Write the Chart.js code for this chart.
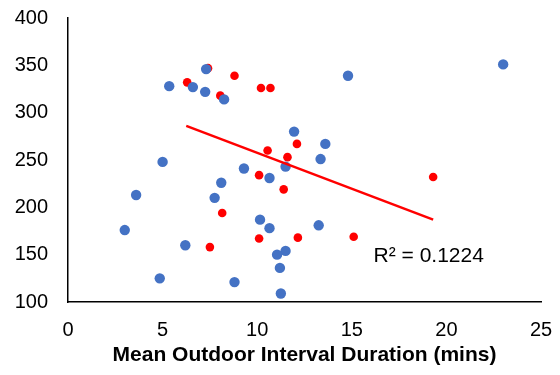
<!DOCTYPE html>
<html>
<head>
<meta charset="utf-8">
<script src="https://cdn.jsdelivr.net/npm/chart.js@4.4.1/dist/chart.umd.min.js"></script>
<style>
  html, body { margin: 0; padding: 0; background: #fff; }
  #wrap { width: 560px; height: 375px; }
</style>
</head>
<body>
<div id="wrap"><canvas id="chart"></canvas></div>
<script>
// ==================== DATA ====================
// blue series (x = mean outdoor interval duration, y = value)
const blueX = [23.0, 14.8, 7.3, 5.35, 6.6, 7.25, 8.25, 11.95, 13.6, 13.35, 11.5, 5.0, 9.3, 10.65,
               8.1, 3.6, 7.75, 10.15, 10.65, 13.25, 3.0, 6.2, 11.5, 11.05, 11.2, 4.85, 8.8, 11.25];
const blueY = [351, 339, 346, 328, 327, 322, 314, 280, 267, 251, 243, 248, 241, 231,
               226, 213, 210, 187, 178, 181, 176, 160, 154, 150, 136, 125, 121, 109];

// red series
const redX = [7.4, 8.8, 6.3, 8.05, 10.2, 10.7, 12.1, 10.55, 11.6, 10.1, 11.4, 19.3, 8.15, 10.1, 12.15, 15.1, 7.5];
const redY = [347, 339, 332, 318, 326, 326, 267, 260, 253, 234, 219, 232, 194, 167, 168, 169, 158];

// linear trendline end points (red series)
const trendX = [6.25, 19.3];
const trendY = [286, 187];

const xTicks = [0, 5, 10, 15, 20, 25];
const yTicks = [100, 150, 200, 250, 300, 350, 400];
const xTitle = 'Mean Outdoor Interval Duration (mins)';
const r2Label = 'R² = 0.1224';

const toPts = (xs, ys) => xs.map((x, i) => ({ x: x, y: ys[i] }));
const FONT = "'Liberation Sans', Arial, sans-serif";

// ==================== R² LABEL ====================
const r2Plugin = {
  id: 'r2Label',
  afterDatasetsDraw(chart) {
    const { ctx, scales } = chart;
    const px = scales.x.getPixelForValue(16.15);
    const py = scales.y.getPixelForValue(148.7);
    ctx.save();
    ctx.font = '21px ' + FONT;
    ctx.fillStyle = '#000';
    ctx.textAlign = 'left';
    ctx.textBaseline = 'middle';
    ctx.fillText(r2Label, px, py);
    ctx.restore();
  }
};

// ==================== CHART ====================
new Chart(document.getElementById('chart').getContext('2d'), {
  type: 'scatter',
  data: {
    datasets: [
      {
        type: 'line',
        data: toPts(trendX, trendY),
        borderColor: '#ff0000',
        borderWidth: 2.5,
        pointRadius: 0,
        fill: false,
        order: 0
      },
      {
        data: toPts(blueX, blueY),
        backgroundColor: '#4472c4',
        borderWidth: 0,
        pointRadius: 5.2,
        order: 1
      },
      {
        data: toPts(redX, redY),
        backgroundColor: '#ff0000',
        borderWidth: 0,
        pointRadius: 4.3,
        order: 2
      }
    ]
  },
  options: {
    responsive: true,
    maintainAspectRatio: false,
    animation: false,
    layout: { padding: { left: 0, right: 19, top: 18, bottom: 0 } },
    plugins: {
      legend: { display: false },
      tooltip: { enabled: false }
    },
    scales: {
      x: {
        type: 'linear',
        min: 0,
        max: 25,
        afterBuildTicks: s => { s.ticks = xTicks.map(v => ({ value: v })); },
        afterFit: s => { s.height = 73; s.paddingLeft = 0; s.paddingRight = 0; },
        grid: { display: false, drawTicks: false },
        border: { display: true, color: '#000', width: 1.5 },
        ticks: { color: '#000', padding: 16, font: { family: FONT, size: 20 } },
        title: {
          display: true,
          text: xTitle,
          color: '#000',
          padding: { top: 0, bottom: 7 },
          font: { family: FONT, size: 21, weight: 'bold' }
        }
      },
      y: {
        type: 'linear',
        min: 100,
        max: 400,
        afterBuildTicks: s => { s.ticks = yTicks.map(v => ({ value: v })); },
        afterFit: s => { s.width = 68; s.paddingTop = 0; s.paddingBottom = 0; },
        grid: { display: false, drawTicks: false },
        border: { display: true, color: '#000', width: 1.5 },
        ticks: { color: '#000', padding: 20, font: { family: FONT, size: 20 } }
      }
    }
  },
  plugins: [r2Plugin]
});
</script>
</body>
</html>
